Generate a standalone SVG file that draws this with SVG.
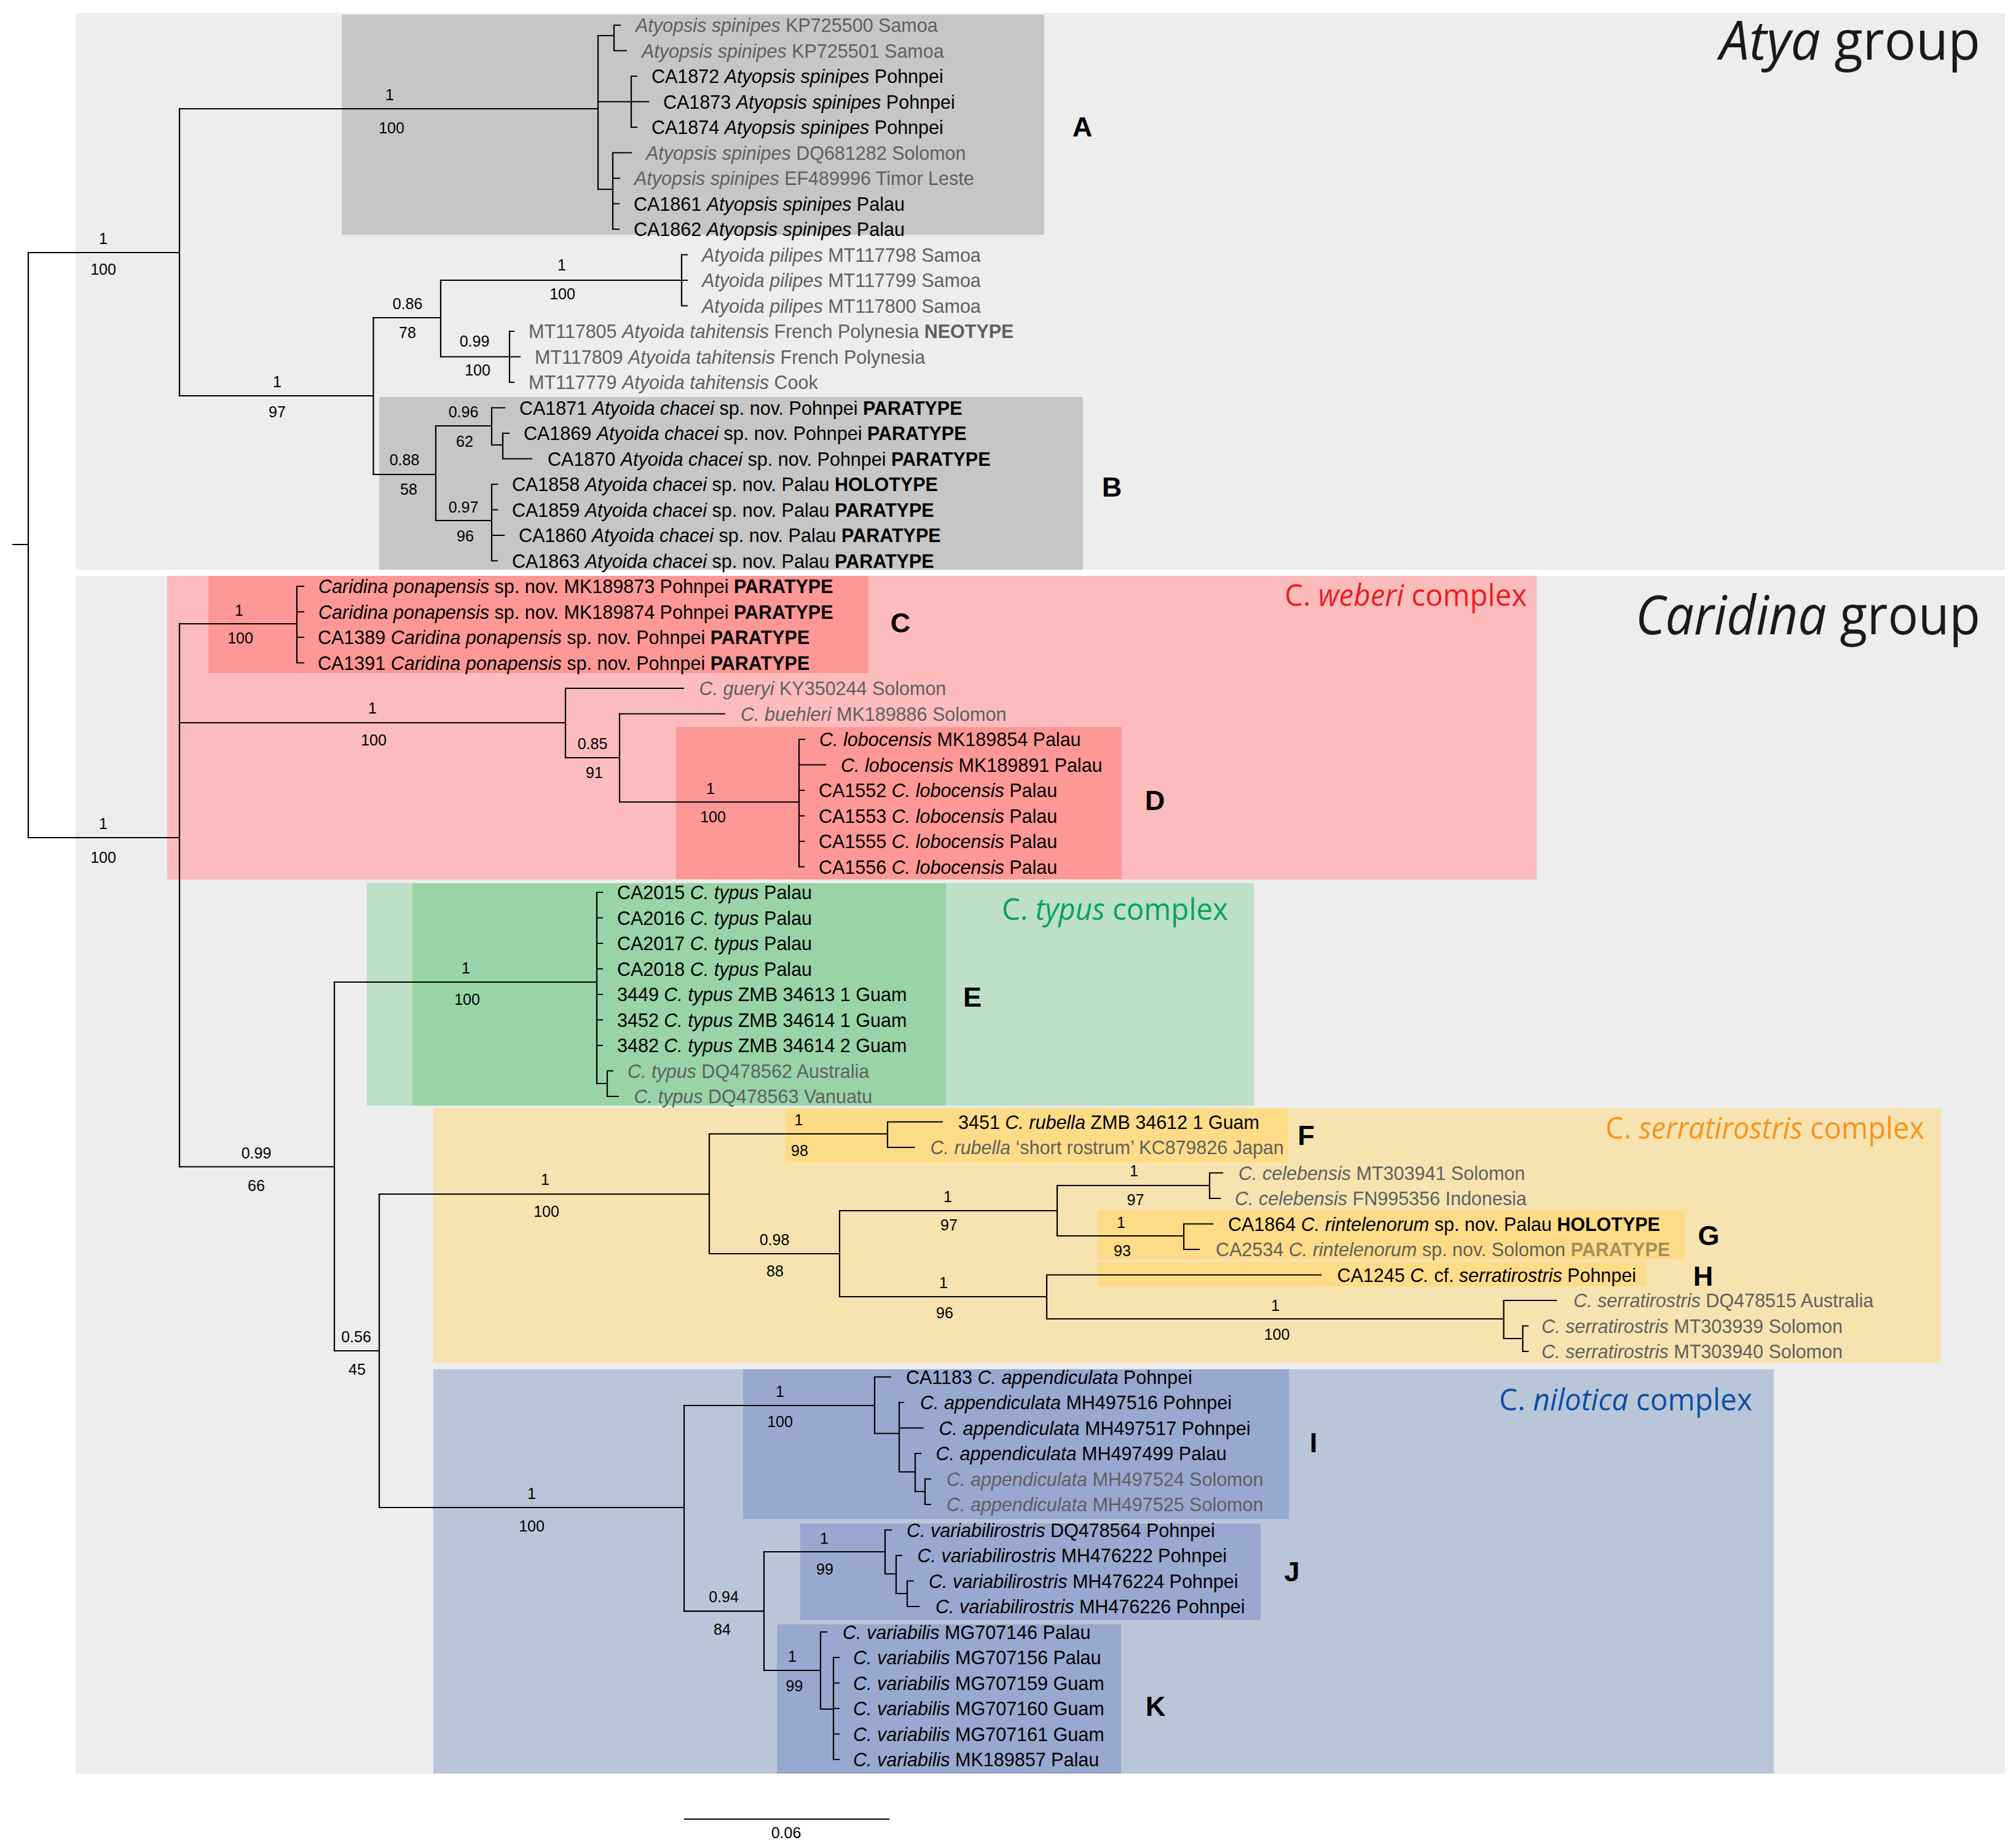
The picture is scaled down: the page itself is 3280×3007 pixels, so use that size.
<svg xmlns="http://www.w3.org/2000/svg" width="3280" height="3007" viewBox="0 0 3280 3007">
<style>
text{font-family:"Liberation Sans",Arial,sans-serif}
.t{font-size:30.5px;fill:#000}
.g{fill:#5f5f5f}
.i{font-style:italic}
.b{font-weight:bold}
.tan{fill:#a38d5c}
.s{font-size:25px;text-anchor:middle;fill:#000}
.L{font-size:45px;font-weight:bold;text-anchor:middle;fill:#000}
.title{font-family:"Open Sans","Noto Sans",sans-serif;font-size:87px;fill:#1a1a1a}
.cx{font-family:"Open Sans","Noto Sans",sans-serif;font-size:50px}
.br{fill:none;stroke:#000;stroke-width:2.2;stroke-linecap:square}
</style>
<rect width="3280" height="3007" fill="#fff"/>
<g id="panels">
<rect x="123" y="21" width="3139" height="906" fill="#ededed"/>
<rect x="123" y="937" width="3139" height="1949" fill="#ededed"/>
</g>
<g id="complexes">
<rect x="272" y="937" width="2228" height="494" fill="#fbbcbb"/>
<rect x="597" y="1437" width="1443" height="362" fill="#bde0c6"/>
<rect x="705" y="1803" width="2453" height="415" fill="#f6e3b0"/>
<rect x="705" y="2228" width="2181" height="658" fill="#b9c6da"/>
</g>
<g id="clade-boxes">
<rect id="box-A" x="556" y="24" width="1143" height="358" fill="#c6c6c6"/>
<rect id="box-B" x="617" y="646" width="1145" height="281" fill="#c6c6c6"/>
<rect id="box-C" x="339" y="937" width="1074" height="158" fill="#fd9896"/>
<rect id="box-D" x="1100" y="1183" width="725" height="248" fill="#fd9896"/>
<rect id="box-E" x="671" y="1437" width="868" height="362" fill="#99d4a6"/>
<rect id="box-F" x="1278" y="1803" width="818" height="89" fill="#fedc87"/>
<rect id="box-G" x="1786" y="1969" width="955" height="80" fill="#fedc87"/>
<rect id="box-H" x="1786" y="2054" width="892" height="39" fill="#fedc87"/>
<rect id="box-I" x="1209" y="2228" width="888" height="244" fill="#97a9cf"/>
<rect id="box-J" x="1302" y="2479" width="749" height="157" fill="#97a9cf"/>
<rect id="box-K" x="1264" y="2643" width="560" height="243" fill="#97a9cf"/>
</g>
<g id="connectors" class="br">
<path d="M21,886H46M46,411V1363"/>
<path d="M46,411H292M292,177V644"/>
<path d="M292,177H973M973,58V308"/>
<path d="M973,58H999M999,41V82.5M999,41H1009M999,82.5H1019"/>
<path d="M973,165.5H1027M1027,124V207M1027,124H1036M1027,165.5H1055M1027,207H1036"/>
<path d="M973,308H997M997,248.5V373M997,248.5H1027M997,290H1008M997,331.5H1007M997,373H1007"/>
<path d="M292,644H607.5M607.5,517V772"/>
<path d="M607.5,517H717M717,456V580.5"/>
<path d="M717,456H1109M1109,414.5V497.5M1109,414.5H1118M1109,456H1118M1109,497.5H1118"/>
<path d="M717,580.5H829M829,539V622M829,539H836M829,580.5H846M829,622H836"/>
<path d="M607.5,772H709M709,693V847"/>
<path d="M709,693H800M800,663.5V724M800,663.5H821M800,724H818M818,705V746.5M818,705H828M818,746.5H865"/>
<path d="M709,847H800M800,788V912.5M800,788H809M800,829.5H809M800,871H820M800,912.5H809"/>
<path d="M46,1363H292M292,1015V1898.5"/>
<path d="M292,1015H483M483,954V1078.5M483,954H494M483,995.5H494M483,1037H494M483,1078.5H494"/>
<path d="M292,1176H920M920,1120V1233M920,1120H1112M920,1233H1008M1008,1161.5V1305M1008,1161.5H1179"/>
<path d="M1008,1305H1300M1300,1203V1410.5M1300,1203H1309M1300,1244.5H1343M1300,1286H1308M1300,1327.5H1308M1300,1369H1308M1300,1410.5H1308"/>
<path d="M292,1898.5H544M544,1598V2198"/>
<path d="M544,1598H971M971,1452V1763M971,1452H980M971,1493.5H980M971,1535H980M971,1576.5H980M971,1618H980M971,1659.5H980M971,1701H980M971,1763H988M988,1742.5V1784M988,1742.5H997M988,1784H1006"/>
<path d="M544,2198H617M617,1943V2453"/>
<path d="M617,1943H1154M1154,1845V2040"/>
<path d="M1154,1845H1444M1444,1825.5V1867M1444,1825.5H1533M1444,1867H1487.5"/>
<path d="M1154,2040H1366M1366,1970V2110"/>
<path d="M1366,1970H1720M1720,1929V2011M1720,1929H1968M1968,1908.5V1950M1968,1908.5H1989M1968,1950H1985M1720,2011H1926M1926,1991.5V2033M1926,1991.5H1973M1926,2033H1951"/>
<path d="M1366,2110H1703M1703,2074.5V2146M1703,2074.5H2149M1703,2146H2446.5M2446.5,2116V2178M2446.5,2116H2532M2446.5,2178H2477.5M2477.5,2157.5V2199M2477.5,2157.5H2486M2477.5,2199H2486"/>
<path d="M617,2453H1113M1113,2287V2621.6"/>
<path d="M1113,2287H1423M1423,2240.5V2332.5M1423,2240.5H1449M1423,2332.5H1463M1463,2282V2395M1463,2282H1470M1463,2323.5H1501.6M1463,2395H1489M1489,2365V2427M1489,2365H1498M1489,2427H1505M1505,2406.5V2448M1505,2406.5H1514M1505,2448H1514"/>
<path d="M1113,2621.6H1243M1243,2525V2718"/>
<path d="M1243,2525H1440M1440,2489.5V2561M1440,2489.5H1450M1440,2561H1458M1458,2531V2593M1458,2531H1467M1458,2593H1476M1476,2572.5V2614M1476,2572.5H1486M1476,2614H1495"/>
<path d="M1243,2718H1335M1335,2655.5V2781M1335,2655.5H1345M1335,2781H1356M1356,2697V2863M1356,2697H1365M1356,2738.5H1365M1356,2780H1365M1356,2821.5H1365M1356,2863H1365"/>
<path d="M1114,2960H1446"/>
</g>
<g id="support">
<text class="s" x="168" y="397">1</text><text class="s" x="168" y="447">100</text>
<text class="s" x="634" y="163">1</text><text class="s" x="637" y="217">100</text>
<text class="s" x="451" y="629.5">1</text><text class="s" x="451" y="679">97</text>
<text class="s" x="663" y="502.5">0.86</text><text class="s" x="663" y="549.5">78</text>
<text class="s" x="914" y="440">1</text><text class="s" x="915" y="486.5">100</text>
<text class="s" x="772" y="564">0.99</text><text class="s" x="777" y="611">100</text>
<text class="s" x="658" y="756.5">0.88</text><text class="s" x="665" y="804.5">58</text>
<text class="s" x="754" y="679">0.96</text><text class="s" x="756" y="727">62</text>
<text class="s" x="754" y="834">0.97</text><text class="s" x="757" y="881">96</text>
<text class="s" x="168" y="1349">1</text><text class="s" x="168" y="1403.6">100</text>
<text class="s" x="389" y="1002">1</text><text class="s" x="391" y="1047">100</text>
<text class="s" x="606" y="1161">1</text><text class="s" x="608" y="1213">100</text>
<text class="s" x="964" y="1219">0.85</text><text class="s" x="967" y="1266">91</text>
<text class="s" x="1156" y="1292">1</text><text class="s" x="1160" y="1338">100</text>
<text class="s" x="417" y="1884.5">0.99</text><text class="s" x="417" y="1938">66</text>
<text class="s" x="758" y="1584">1</text><text class="s" x="760" y="1635">100</text>
<text class="s" x="579.5" y="2183.6">0.56</text><text class="s" x="581" y="2237">45</text>
<text class="s" x="887" y="1928">1</text><text class="s" x="889" y="1980.4">100</text>
<text class="s" x="1299.5" y="1831.4">1</text><text class="s" x="1301" y="1881">98</text>
<text class="s" x="1260" y="2026">0.98</text><text class="s" x="1261" y="2077">88</text>
<text class="s" x="1542" y="1956">1</text><text class="s" x="1544" y="2002">97</text>
<text class="s" x="1845" y="1914">1</text><text class="s" x="1847.5" y="1961">97</text>
<text class="s" x="1824" y="1998">1</text><text class="s" x="1826" y="2044">93</text>
<text class="s" x="1535" y="2096">1</text><text class="s" x="1537" y="2145">96</text>
<text class="s" x="2075" y="2132.6">1</text><text class="s" x="2077.5" y="2180">100</text>
<text class="s" x="865" y="2439">1</text><text class="s" x="865" y="2492">100</text>
<text class="s" x="1269" y="2272.7">1</text><text class="s" x="1269" y="2322">100</text>
<text class="s" x="1177.5" y="2607">0.94</text><text class="s" x="1175" y="2660">84</text>
<text class="s" x="1341" y="2511.5">1</text><text class="s" x="1342" y="2562">99</text>
<text class="s" x="1289" y="2704">1</text><text class="s" x="1292.5" y="2752">99</text>
<text class="s" x="1279" y="2991">0.06</text>
</g>
<g id="tips" class="t">
<g id="tip-KP725500"><text class="t g" x="1034" y="52"><tspan class="i">Atyopsis spinipes</tspan> KP725500 Samoa</text></g>
<g id="tip-KP725501"><text class="t g" x="1044" y="93.5"><tspan class="i">Atyopsis spinipes</tspan> KP725501 Samoa</text></g>
<g id="tip-CA1872"><text class="t" x="1060" y="135">CA1872 <tspan class="i">Atyopsis spinipes</tspan> Pohnpei</text></g>
<g id="tip-CA1873"><text class="t" x="1079" y="176.5">CA1873 <tspan class="i">Atyopsis spinipes</tspan> Pohnpei</text></g>
<g id="tip-CA1874"><text class="t" x="1060" y="218">CA1874 <tspan class="i">Atyopsis spinipes</tspan> Pohnpei</text></g>
<g id="tip-DQ681282"><text class="t g" x="1051" y="259.5"><tspan class="i">Atyopsis spinipes</tspan> DQ681282 Solomon</text></g>
<g id="tip-EF489996"><text class="t g" x="1032" y="301"><tspan class="i">Atyopsis spinipes</tspan> EF489996 Timor Leste</text></g>
<g id="tip-CA1861"><text class="t" x="1031" y="342.5">CA1861 <tspan class="i">Atyopsis spinipes</tspan> Palau</text></g>
<g id="tip-CA1862"><text class="t" x="1031" y="384">CA1862 <tspan class="i">Atyopsis spinipes</tspan> Palau</text></g>
<g id="tip-MT117798"><text class="t g" x="1142" y="425.5"><tspan class="i">Atyoida pilipes</tspan> MT117798 Samoa</text></g>
<g id="tip-MT117799"><text class="t g" x="1142" y="467"><tspan class="i">Atyoida pilipes</tspan> MT117799 Samoa</text></g>
<g id="tip-MT117800"><text class="t g" x="1142" y="508.5"><tspan class="i">Atyoida pilipes</tspan> MT117800 Samoa</text></g>
<g id="tip-MT117805"><text class="t g" x="860" y="550">MT117805 <tspan class="i">Atyoida tahitensis</tspan> French Polynesia <tspan class="b">NEOTYPE</tspan></text></g>
<g id="tip-MT117809"><text class="t g" x="870" y="591.5">MT117809 <tspan class="i">Atyoida tahitensis</tspan> French Polynesia</text></g>
<g id="tip-MT117779"><text class="t g" x="860" y="633">MT117779 <tspan class="i">Atyoida tahitensis</tspan> Cook</text></g>
<g id="tip-CA1871"><text class="t" x="845" y="674.5">CA1871 <tspan class="i">Atyoida chacei</tspan> sp. nov. Pohnpei <tspan class="b">PARATYPE</tspan></text></g>
<g id="tip-CA1869"><text class="t" x="852" y="716">CA1869 <tspan class="i">Atyoida chacei</tspan> sp. nov. Pohnpei <tspan class="b">PARATYPE</tspan></text></g>
<g id="tip-CA1870"><text class="t" x="891" y="757.5">CA1870 <tspan class="i">Atyoida chacei</tspan> sp. nov. Pohnpei <tspan class="b">PARATYPE</tspan></text></g>
<g id="tip-CA1858"><text class="t" x="833" y="799">CA1858 <tspan class="i">Atyoida chacei</tspan> sp. nov. Palau <tspan class="b">HOLOTYPE</tspan></text></g>
<g id="tip-CA1859"><text class="t" x="833" y="840.5">CA1859 <tspan class="i">Atyoida chacei</tspan> sp. nov. Palau <tspan class="b">PARATYPE</tspan></text></g>
<g id="tip-CA1860"><text class="t" x="844" y="882">CA1860 <tspan class="i">Atyoida chacei</tspan> sp. nov. Palau <tspan class="b">PARATYPE</tspan></text></g>
<g id="tip-CA1863"><text class="t" x="833" y="923.5">CA1863 <tspan class="i">Atyoida chacei</tspan> sp. nov. Palau <tspan class="b">PARATYPE</tspan></text></g>
<g id="tip-MK189873"><text class="t" x="518" y="965"><tspan class="i">Caridina ponapensis</tspan> sp. nov. MK189873 Pohnpei <tspan class="b">PARATYPE</tspan></text></g>
<g id="tip-MK189874"><text class="t" x="518" y="1006.5"><tspan class="i">Caridina ponapensis</tspan> sp. nov. MK189874 Pohnpei <tspan class="b">PARATYPE</tspan></text></g>
<g id="tip-CA1389"><text class="t" x="517" y="1048">CA1389 <tspan class="i">Caridina ponapensis</tspan> sp. nov. Pohnpei <tspan class="b">PARATYPE</tspan></text></g>
<g id="tip-CA1391"><text class="t" x="517" y="1089.5">CA1391 <tspan class="i">Caridina ponapensis</tspan> sp. nov. Pohnpei <tspan class="b">PARATYPE</tspan></text></g>
<g id="tip-KY350244"><text class="t g" x="1137.5" y="1131"><tspan class="i">C. gueryi</tspan> KY350244 Solomon</text></g>
<g id="tip-MK189886"><text class="t g" x="1205" y="1172.5"><tspan class="i">C. buehleri</tspan> MK189886 Solomon</text></g>
<g id="tip-MK189854"><text class="t" x="1333" y="1214"><tspan class="i">C. lobocensis</tspan> MK189854 Palau</text></g>
<g id="tip-MK189891"><text class="t" x="1368" y="1255.5"><tspan class="i">C. lobocensis</tspan> MK189891 Palau</text></g>
<g id="tip-CA1552"><text class="t" x="1332" y="1297">CA1552 <tspan class="i">C. lobocensis</tspan> Palau</text></g>
<g id="tip-CA1553"><text class="t" x="1332" y="1338.5">CA1553 <tspan class="i">C. lobocensis</tspan> Palau</text></g>
<g id="tip-CA1555"><text class="t" x="1332" y="1380">CA1555 <tspan class="i">C. lobocensis</tspan> Palau</text></g>
<g id="tip-CA1556"><text class="t" x="1332" y="1421.5">CA1556 <tspan class="i">C. lobocensis</tspan> Palau</text></g>
<g id="tip-CA2015"><text class="t" x="1004" y="1463">CA2015 <tspan class="i">C. typus</tspan> Palau</text></g>
<g id="tip-CA2016"><text class="t" x="1004" y="1504.5">CA2016 <tspan class="i">C. typus</tspan> Palau</text></g>
<g id="tip-CA2017"><text class="t" x="1004" y="1546">CA2017 <tspan class="i">C. typus</tspan> Palau</text></g>
<g id="tip-CA2018"><text class="t" x="1004" y="1587.5">CA2018 <tspan class="i">C. typus</tspan> Palau</text></g>
<g id="tip-3449"><text class="t" x="1004" y="1629">3449 <tspan class="i">C. typus</tspan> ZMB 34613 1 Guam</text></g>
<g id="tip-3452"><text class="t" x="1004" y="1670.5">3452 <tspan class="i">C. typus</tspan> ZMB 34614 1 Guam</text></g>
<g id="tip-3482"><text class="t" x="1004" y="1712">3482 <tspan class="i">C. typus</tspan> ZMB 34614 2 Guam</text></g>
<g id="tip-DQ478562"><text class="t g" x="1021" y="1753.5"><tspan class="i">C. typus</tspan> DQ478562 Australia</text></g>
<g id="tip-DQ478563"><text class="t g" x="1031.6" y="1795"><tspan class="i">C. typus</tspan> DQ478563 Vanuatu</text></g>
<g id="tip-3451"><text class="t" x="1559" y="1836.5">3451 <tspan class="i">C. rubella</tspan> ZMB 34612 1 Guam</text></g>
<g id="tip-KC879826"><text class="t g" x="1513.5" y="1878"><tspan class="i">C. rubella</tspan> ‘short rostrum’ KC879826 Japan</text></g>
<g id="tip-MT303941"><text class="t g" x="2015" y="1919.5"><tspan class="i">C. celebensis</tspan> MT303941 Solomon</text></g>
<g id="tip-FN995356"><text class="t g" x="2009" y="1961"><tspan class="i">C. celebensis</tspan> FN995356 Indonesia</text></g>
<g id="tip-CA1864"><text class="t" x="1998" y="2002.5">CA1864 <tspan class="i">C. rintelenorum</tspan> sp. nov. Palau <tspan class="b">HOLOTYPE</tspan></text></g>
<g id="tip-CA2534"><text class="t g" x="1978" y="2044">CA2534 <tspan class="i">C. rintelenorum</tspan> sp. nov. Solomon <tspan class="b tan">PARATYPE</tspan></text></g>
<g id="tip-CA1245"><text class="t" x="2175.5" y="2085.5">CA1245 <tspan class="i">C.</tspan> cf. <tspan class="i">serratirostris</tspan> Pohnpei</text></g>
<g id="tip-DQ478515"><text class="t g" x="2560" y="2127"><tspan class="i">C. serratirostris</tspan> DQ478515 Australia</text></g>
<g id="tip-MT303939"><text class="t g" x="2508" y="2168.5"><tspan class="i">C. serratirostris</tspan> MT303939 Solomon</text></g>
<g id="tip-MT303940"><text class="t g" x="2508" y="2210"><tspan class="i">C. serratirostris</tspan> MT303940 Solomon</text></g>
<g id="tip-CA1183"><text class="t" x="1474" y="2251.5">CA1183 <tspan class="i">C. appendiculata</tspan> Pohnpei</text></g>
<g id="tip-MH497516"><text class="t" x="1497" y="2293"><tspan class="i">C. appendiculata</tspan> MH497516 Pohnpei</text></g>
<g id="tip-MH497517"><text class="t" x="1527.5" y="2334.5"><tspan class="i">C. appendiculata</tspan> MH497517 Pohnpei</text></g>
<g id="tip-MH497499"><text class="t" x="1522.6" y="2376"><tspan class="i">C. appendiculata</tspan> MH497499 Palau</text></g>
<g id="tip-MH497524"><text class="t g" x="1540" y="2417.5"><tspan class="i">C. appendiculata</tspan> MH497524 Solomon</text></g>
<g id="tip-MH497525"><text class="t g" x="1540" y="2459"><tspan class="i">C. appendiculata</tspan> MH497525 Solomon</text></g>
<g id="tip-DQ478564"><text class="t" x="1475" y="2500.5"><tspan class="i">C. variabilirostris</tspan> DQ478564 Pohnpei</text></g>
<g id="tip-MH476222"><text class="t" x="1492.5" y="2542"><tspan class="i">C. variabilirostris</tspan> MH476222 Pohnpei</text></g>
<g id="tip-MH476224"><text class="t" x="1511" y="2583.5"><tspan class="i">C. variabilirostris</tspan> MH476224 Pohnpei</text></g>
<g id="tip-MH476226"><text class="t" x="1522" y="2625"><tspan class="i">C. variabilirostris</tspan> MH476226 Pohnpei</text></g>
<g id="tip-MG707146"><text class="t" x="1371" y="2666.5"><tspan class="i">C. variabilis</tspan> MG707146 Palau</text></g>
<g id="tip-MG707156"><text class="t" x="1388" y="2708"><tspan class="i">C. variabilis</tspan> MG707156 Palau</text></g>
<g id="tip-MG707159"><text class="t" x="1388" y="2749.5"><tspan class="i">C. variabilis</tspan> MG707159 Guam</text></g>
<g id="tip-MG707160"><text class="t" x="1388" y="2791"><tspan class="i">C. variabilis</tspan> MG707160 Guam</text></g>
<g id="tip-MG707161"><text class="t" x="1388" y="2832.5"><tspan class="i">C. variabilis</tspan> MG707161 Guam</text></g>
<g id="tip-MK189857"><text class="t" x="1388" y="2874"><tspan class="i">C. variabilis</tspan> MK189857 Palau</text></g>
</g>
<g id="clade-letters">
<text class="L" x="1761" y="222">A</text>
<text class="L" x="1809" y="808">B</text>
<text class="L" x="1465" y="1029">C</text>
<text class="L" x="1879" y="1318">D</text>
<text class="L" x="1582" y="1638">E</text>
<text class="L" x="2125" y="1863">F</text>
<text class="L" x="2780" y="2026">G</text>
<text class="L" x="2771" y="2092">H</text>
<text class="L" x="2137" y="2363">I</text>
<text class="L" x="2102" y="2573">J</text>
<text class="L" x="1880" y="2792">K</text>
</g>
<g id="titles">
<text class="title" x="2798" y="97" textLength="424" lengthAdjust="spacingAndGlyphs"><tspan class="i">Atya</tspan> group</text>
<text class="title" x="2661" y="1031.5" textLength="561" lengthAdjust="spacingAndGlyphs"><tspan class="i">Caridina</tspan> group</text>
<text class="cx" x="2090" y="986" fill="#ed1c24" textLength="394" lengthAdjust="spacingAndGlyphs">C. <tspan class="i">weberi</tspan> complex</text>
<text class="cx" x="1630" y="1497" fill="#00a651" textLength="368" lengthAdjust="spacingAndGlyphs">C. <tspan class="i">typus</tspan> complex</text>
<text class="cx" x="2612" y="1852.6" fill="#f7941d" textLength="519" lengthAdjust="spacingAndGlyphs">C. <tspan class="i">serratirostris</tspan> complex</text>
<text class="cx" x="2439" y="2295" fill="#0e4fa0" textLength="412" lengthAdjust="spacingAndGlyphs">C. <tspan class="i">nilotica</tspan> complex</text>
</g>
</svg>
